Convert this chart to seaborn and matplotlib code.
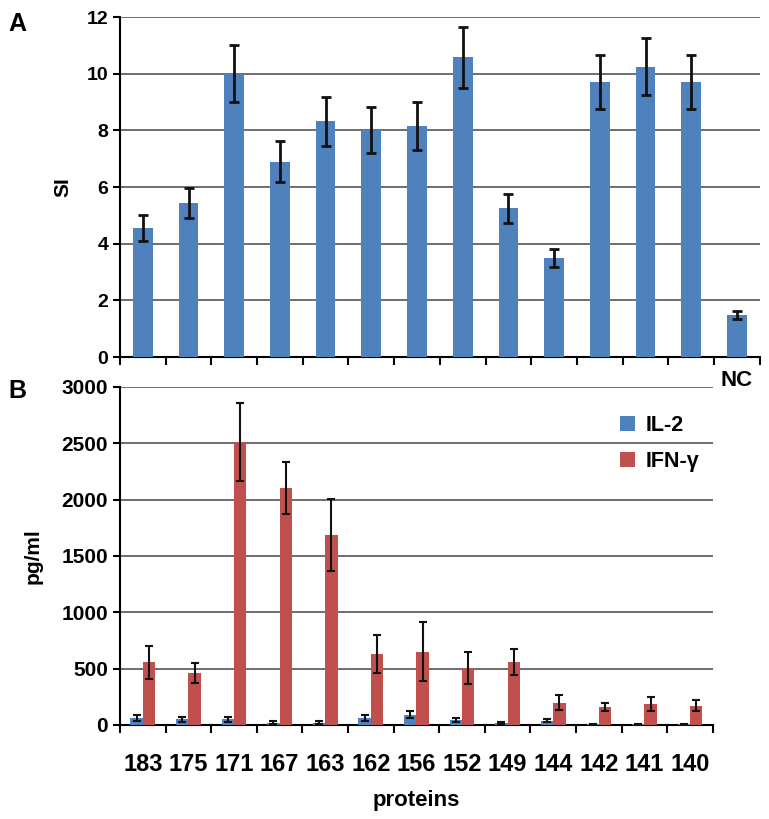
import matplotlib
matplotlib.use("Agg")
import matplotlib.pyplot as plt
import seaborn as sns
import numpy as np
import pandas as pd

# panel A: stimulation index
si_labels = ["183", "175", "171", "167", "163", "162", "156", "152", "149", "144", "142", "141", "140", "NC"]
si_mean = [4.55, 5.43, 10.0, 6.9, 8.32, 8.01, 8.15, 10.58, 5.25, 3.5, 9.7, 10.25, 9.7, 1.48]
si_err = [0.47, 0.53, 1.0, 0.72, 0.86, 0.82, 0.85, 1.07, 0.52, 0.32, 0.95, 1.0, 0.95, 0.15]

# panel B: cytokines
proteins = ["183", "175", "171", "167", "163", "162", "156", "152", "149", "144", "142", "141", "140"]
il2_mean = [60, 50, 50, 20, 20, 60, 90, 45, 20, 38, 6, 5, 5]
il2_err = [25, 20, 20, 15, 15, 25, 30, 18, 10, 12, 5, 3, 3]
ifn_mean = [556, 460, 2513, 2100, 1685, 627, 650, 503, 556, 198, 157, 186, 171]
ifn_err = [145, 86, 348, 230, 320, 170, 262, 143, 115, 67, 35, 63, 50]

BLUE = "#4F81BD"
RED = "#C0504D"

plt.rcParams["font.family"] = ["Liberation Sans", "DejaVu Sans"]
plt.rcParams["font.weight"] = "bold"

fig = plt.figure(figsize=(7.69, 8.19), dpi=100)
ax_a = fig.add_axes([0.156, 0.5641, 0.832, 0.4151])
ax_b = fig.add_axes([0.156, 0.1148, 0.771, 0.4127])

# ---- panel A
df_a = pd.DataFrame({"protein": si_labels, "SI": si_mean})
sns.barplot(df_a, x="protein", y="SI", color=BLUE, saturation=1, width=0.43, ax=ax_a, zorder=3)
xs = [b.get_x() + b.get_width() / 2 for b in ax_a.containers[0]]
ax_a.errorbar(xs, si_mean, yerr=si_err, fmt="none", ecolor="#111111", elinewidth=2,
              capsize=3.6, capthick=2, zorder=4)
ax_a.set_ylim(0, 12)
ax_a.set_xlim(-0.5, len(si_labels) - 0.5)
ax_a.set_yticks(range(0, 13, 2))
ax_a.set_xticks(range(len(si_labels)))
ax_a.set_xticklabels([""] * (len(si_labels) - 1) + ["NC"], fontsize=16, fontweight="bold")
ax_a.set_xticks(np.arange(-0.5, len(si_labels), 1), minor=True)
ax_a.tick_params(axis="x", which="major", length=0, pad=9)
ax_a.tick_params(axis="x", which="minor", length=6, width=1.5, direction="out")
ax_a.tick_params(axis="y", length=5, width=1.5, labelsize=14)
ax_a.set_xlabel("")
ax_a.set_ylabel("SI", fontsize=15, fontweight="bold", labelpad=10)

# ---- panel B
df_b = pd.DataFrame({
    "protein": proteins * 2,
    "value": il2_mean + ifn_mean,
    "cytokine": ["IL-2"] * len(proteins) + ["IFN-\u03b3"] * len(proteins),
})
sns.barplot(df_b, x="protein", y="value", hue="cytokine", palette=[BLUE, RED], saturation=1,
            width=0.54, gap=0, ax=ax_b, zorder=3)
for cont, means, errs in zip(ax_b.containers, [il2_mean, ifn_mean], [il2_err, ifn_err]):
    xb = [b.get_x() + b.get_width() / 2 for b in cont]
    ax_b.errorbar(xb, means, yerr=errs, fmt="none", ecolor="#111111", elinewidth=1.5,
                  capsize=2.6, capthick=1.5, zorder=4)
ax_b.set_ylim(0, 3000)
ax_b.set_xlim(-0.5, len(proteins) - 0.5)
ax_b.set_yticks(range(0, 3001, 500))
ax_b.set_xticks(np.arange(-0.5, len(proteins), 1), minor=True)
ax_b.tick_params(axis="x", which="major", length=0, pad=20, labelsize=17)
ax_b.tick_params(axis="x", which="minor", length=6, width=1.5, direction="out")
ax_b.tick_params(axis="y", length=5, width=1.5, labelsize=15)
ax_b.set_xlabel("proteins", fontsize=16, fontweight="bold", labelpad=10)
ax_b.set_ylabel("pg/ml", fontsize=15, fontweight="bold", labelpad=14)
leg = ax_b.legend(loc="upper right", bbox_to_anchor=(1.01, 0.975), frameon=False,
                  fontsize=15.5, handlelength=0.7, handleheight=0.7, handletextpad=0.5,
                  labelspacing=0.7)
for t in leg.get_texts():
    t.set_fontweight("bold")

for ax in (ax_a, ax_b):
    ax.yaxis.grid(True, color="#555555", linewidth=1.2, zorder=0)
    ax.set_axisbelow(True)
    ax.spines["right"].set_visible(False)
    ax.spines["top"].set_visible(False)
    ax.spines["left"].set_linewidth(1.5)
    ax.spines["bottom"].set_linewidth(1.5)
    for lab in ax.get_xticklabels() + ax.get_yticklabels():
        lab.set_fontweight("bold")

fig.text(0.011, 0.971, "A", fontsize=18, fontweight="bold", va="center", ha="left")
fig.text(0.011, 0.523, "B", fontsize=18, fontweight="bold", va="center", ha="left")

fig.savefig("out.png", dpi=100)
